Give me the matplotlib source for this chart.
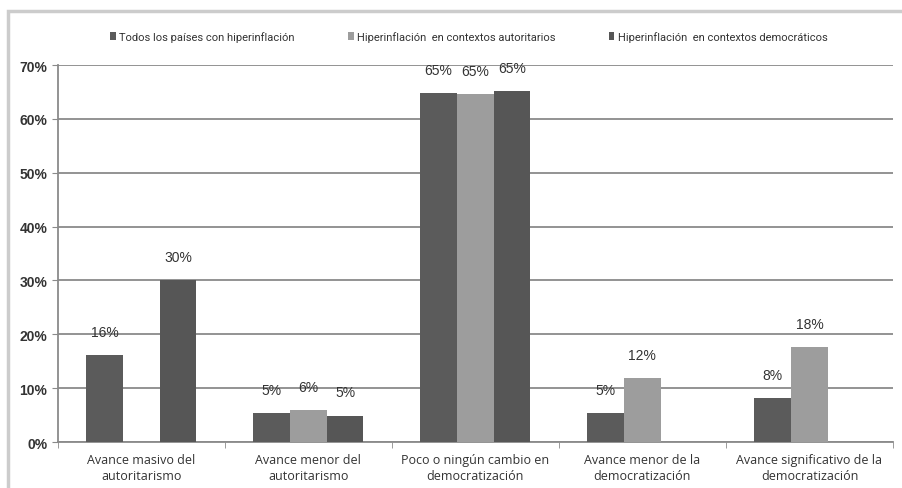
import numpy as np
import matplotlib.pyplot as plt
from matplotlib.patches import Rectangle

categories = ['Avance masivo del\nautoritarismo', 'Avance menor del\nautoritarismo',
              'Poco o ningún cambio en\ndemocratización', 'Avance menor de la\ndemocratización',
              'Avance significativo de la\ndemocratización']
series_names = ['Todos los países con hiperinflación',
                'Hiperinflación  en contextos autoritarios',
                'Hiperinflación  en contextos democráticos']
todos = [16.2, 5.4, 64.8, 5.4, 8.1]
autoritarios = [0, 5.9, 64.6, 11.9, 17.6]
democraticos = [30.0, 4.9, 65.1, 0, 0]
todos_lbl = ['16%', '5%', '65%', '5%', '8%']
autoritarios_lbl = ['', '6%', '65%', '12%', '18%']
democraticos_lbl = ['30%', '5%', '65%', '', '']

colors = ['#5b5b5b', '#9d9d9d', '#565656']
txt = '#333333'

fig = plt.figure(figsize=(9.02, 4.89), dpi=100)
fig.patches.append(Rectangle((0.009, -0.01), 1.0, 0.985, transform=fig.transFigure,
                             fill=False, edgecolor='#cccccc', linewidth=2.5, zorder=0))
ax = fig.add_axes([0.064, 0.094, 0.926, 0.771])

x = np.arange(len(categories))
w = 0.22
data = [todos, autoritarios, democraticos]
labels = [todos_lbl, autoritarios_lbl, democraticos_lbl]
for i, (vals, lbls) in enumerate(zip(data, labels)):
    pos = x + (i - 1) * w
    ax.bar(pos, vals, width=w, color=colors[i], label=series_names[i], zorder=3)
    for p, v, l in zip(pos, vals, lbls):
        if l:
            ax.text(p, v + 3.0, l, ha='center', va='bottom', fontsize=10, color=txt,
                    family='Liberation Sans')

ax.set_xlim(-0.5, len(categories) - 0.5)
ax.set_ylim(0, 70)
ax.set_yticks(range(0, 71, 10))
ax.set_yticklabels([f'{v}%' for v in range(0, 71, 10)], fontsize=10, color=txt,
                   family='Liberation Sans', fontweight='bold')
ax.yaxis.grid(True, color='#8a8a8a', linewidth=1.3, zorder=0)
ax.set_axisbelow(True)

ax.set_xticks(x)
ax.set_xticklabels(categories, fontsize=9, color=txt, family='Open Sans', linespacing=1.3)
ax.tick_params(axis='x', length=0, pad=8)
ax.set_xticks(np.arange(-0.5, len(categories), 1), minor=True)
ax.tick_params(axis='x', which='minor', length=4, color='#8a8a8a')
ax.tick_params(axis='y', length=4, color='#8a8a8a')

for s in ['top', 'right']:
    ax.spines[s].set_visible(False)
for s in ['left', 'bottom']:
    ax.spines[s].set_color('#8a8a8a')
    ax.spines[s].set_linewidth(1.3)

leg = fig.legend(loc='upper center', bbox_to_anchor=(0.52, 0.955), ncol=3, frameon=False,
                 handlelength=0.5, handleheight=0.6, handletextpad=0.3, columnspacing=4.8,
                 prop={'family': ['Liberation Sans Narrow', 'Roboto', 'DejaVu Sans'], 'size': 8})
for t in leg.get_texts():
    t.set_color(txt)

fig.savefig('out.png', dpi=100, facecolor='white')
